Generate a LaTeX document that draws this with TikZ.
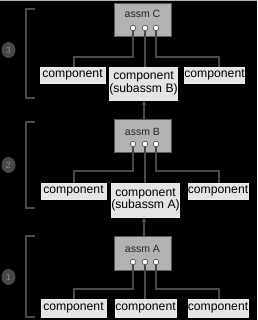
\documentclass[tikz,border=0pt]{standalone}
\usepackage{fontspec}
\setmainfont{Liberation Sans}
\usetikzlibrary{arrows.meta,shapes.geometric}
\definecolor{compfill}{HTML}{E4E4E4}
\definecolor{assmfill}{HTML}{B2B2B2}
\definecolor{wire}{HTML}{4A4A4A}
\begin{document}
\begin{tikzpicture}[x=1pt,y=-1pt,
  comp/.style={draw=white!85!gray,fill=compfill,line width=0.6pt,inner sep=0pt,
    font=\fontsize{12.2}{13}\selectfont,text=black,align=center},
  assm/.style={draw=gray!70!black,fill=assmfill,line width=0.8pt,inner sep=0pt,
    font=\fontsize{10.5}{11}\selectfont,text=black!85},
  port/.style={circle,draw=black!80,fill=white,line width=0.5pt,minimum size=5.5pt,inner sep=0pt},
  wireline/.style={draw=wire,line width=1.5pt},
  upar/.style={draw=wire,line width=1.3pt,-{Stealth[length=5pt,width=5pt]}},
  bracket/.style={draw=wire,line width=2pt},
  num/.style={ellipse,fill=black!72,minimum width=14pt,minimum height=16pt,inner sep=0pt,
    font=\fontsize{9}{9}\selectfont,text=black!45}]
\useasboundingbox (0,0) rectangle (257,320);
\fill[black] (0,0) rectangle (257,320);
\draw[gray!60,line width=1pt] (0,0.5) -- (257,0.5);

% brackets
\draw[bracket] (35,9) -- (26,9) -- (26,98) -- (35,98);
\draw[bracket] (35,122) -- (26,122) -- (26,208) -- (35,208);
\draw[bracket] (35,236) -- (26,236) -- (26,317) -- (35,317);
\node[num] (n3) at (8.5,50) {3};
\node[num] (n2) at (8.5,165) {2};
\node[num] (n1) at (8.5,277) {1};

% ---- level C ----
\node[assm,minimum width=57pt,minimum height=33pt] (aC) at (142.5,19.5) {};
\node[assm,draw=none,fill=none] (tC) at (142.5,14) {assm C};
\node[port] (pC1) at (133,28) {};
\node[port] (pC2) at (145,28) {};
\node[port] (pC3) at (156,28) {};
\node[comp,minimum width=65pt,minimum height=16pt] (c1L) at (72.5,75) {component};
\node[comp,minimum width=64pt,minimum height=33pt] (c1M) at (143.5,83.5) {component\\[-0.5pt](subassm B)};
\node[comp,minimum width=59pt,minimum height=16pt] (c1R) at (214.5,75) {component};
\draw[wireline] (pC1.south) |- (74,57) -- (74,67);
\draw[wireline] (pC2.south) -- (145,67);
\draw[wireline] (pC3.south) |- (219,57) -- (219,67);

% ---- level B ----
\node[assm,minimum width=57pt,minimum height=33pt] (aB) at (142.5,135.5) {};
\node[assm,draw=none,fill=none] (tB) at (142.5,132) {assm B};
\node[port] (pB1) at (133,144) {};
\node[port] (pB2) at (145,144) {};
\node[port] (pB3) at (156,144) {};
\node[comp,minimum width=65pt,minimum height=16pt] (c2L) at (73.5,191) {component};
\node[comp,minimum width=63pt,minimum height=34pt] (c2M) at (145.5,200) {component\\[-0.5pt](subassm A)};
\node[comp,minimum width=60pt,minimum height=16pt] (c2R) at (218,191) {component};
\draw[wireline] (pB1.south) |- (74,171) -- (74,183);
\draw[wireline] (pB2.south) -- (145,183);
\draw[wireline] (pB3.south) |- (219,171) -- (219,183);
\draw[upar] (aB.north -| 144,0) -- (c1M.south -| 144,0);

% ---- level A ----
\node[assm,minimum width=57pt,minimum height=34pt] (aA) at (142.5,253) {};
\node[assm,draw=none,fill=none] (tA) at (142.5,249) {assm A};
\node[port] (pA1) at (133,262) {};
\node[port] (pA2) at (145,262) {};
\node[port] (pA3) at (156,262) {};
\node[comp,minimum width=65pt,minimum height=18pt] (c3L) at (73.5,308) {component};
\node[comp,minimum width=61pt,minimum height=18pt] (c3M) at (145.5,308) {component};
\node[comp,minimum width=60pt,minimum height=18pt] (c3R) at (218,308) {component};
\draw[wireline] (pA1.south) |- (74,289) -- (74,299);
\draw[wireline] (pA2.south) -- (145,299);
\draw[wireline] (pA3.south) |- (219,289) -- (219,299);
\draw[upar] (aA.north -| 144,0) -- (c2M.south -| 144,0);
\end{tikzpicture}
\end{document}
